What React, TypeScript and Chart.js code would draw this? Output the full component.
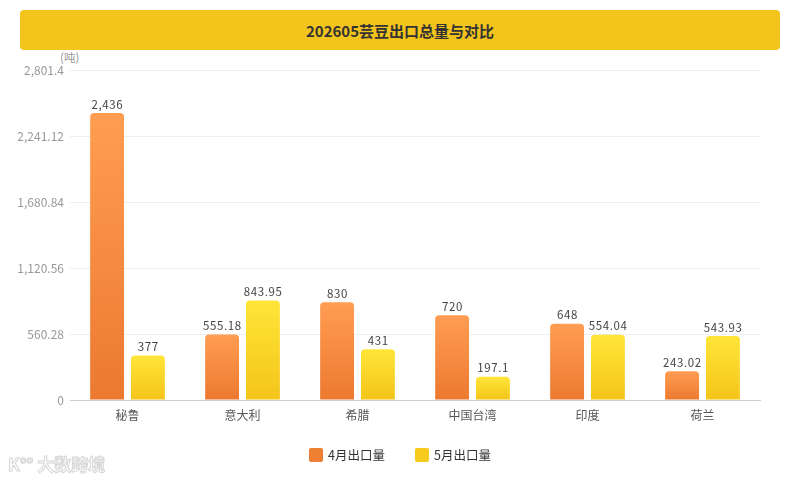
import React, { useEffect, useRef } from "react";
import { Chart, registerables } from "chart.js";

Chart.register(...registerables);

const categories = ["秘鲁", "意大利", "希腊", "中国台湾", "印度", "荷兰"];
const aprilValues = [2436, 555.18, 830, 720, 648, 243.02];
const mayValues = [377, 843.95, 431, 197.1, 554.04, 543.93];
const yTicks = [0, 560.28, 1120.56, 1680.84, 2241.12, 2801.4];
const seriesNames = ["4月出口量", "5月出口量"];
const titleText = "202605芸豆出口总量与对比";
const unitText = "(吨)";

const FONT = '"Noto Sans CJK SC", "Noto Sans", sans-serif';

const fmt = (v: number) => v.toLocaleString("en-US", { maximumFractionDigits: 2 });

function barGradient(ctx: any, top: string, bottom: string) {
  const chart = ctx.chart;
  const area = chart.chartArea;
  const yScale = chart.scales?.y;
  if (!area || !yScale || ctx.type !== "data") return bottom;
  const v = ctx.raw as number;
  const y0 = yScale.getPixelForValue(v);
  const y1 = yScale.getPixelForValue(0);
  if (!isFinite(y0) || !isFinite(y1) || y0 === y1) return bottom;
  const g = chart.ctx.createLinearGradient(0, y0, 0, y1);
  g.addColorStop(0, top);
  g.addColorStop(1, bottom);
  return g;
}

const valueLabels = {
  id: "valueLabels",
  afterDatasetsDraw(chart: any) {
    const c = chart.ctx;
    c.save();
    c.font = `11.5px ${FONT}`;
    c.fillStyle = "#444";
    c.textAlign = "center";
    c.textBaseline = "bottom";
    try {
      (c as any).letterSpacing = "0.6px";
    } catch (e) {}
    chart.data.datasets.forEach((ds: any, di: number) => {
      const meta = chart.getDatasetMeta(di);
      meta.data.forEach((bar: any, i: number) => {
        c.fillText(fmt(ds.data[i]), bar.x + 0.3, bar.y - 3);
      });
    });
    c.restore();
  },
};

export default function App() {
  const canvasRef = useRef<HTMLCanvasElement | null>(null);

  useEffect(() => {
    if (!canvasRef.current) return;
    const chart = new Chart(canvasRef.current, {
      type: "bar",
      data: {
        labels: categories,
        datasets: [
          {
            label: seriesNames[0],
            data: aprilValues,
            backgroundColor: (ctx: any) => barGradient(ctx, "#FF9D52", "#EC7930"),
            borderRadius: { topLeft: 4, topRight: 4, bottomLeft: 0, bottomRight: 0 },
            borderSkipped: false,
            categoryPercentage: 0.71,
            barPercentage: 0.83,
          },
          {
            label: seriesNames[1],
            data: mayValues,
            backgroundColor: (ctx: any) => barGradient(ctx, "#FFE538", "#F4C41A"),
            borderRadius: { topLeft: 4, topRight: 4, bottomLeft: 0, bottomRight: 0 },
            borderSkipped: false,
            categoryPercentage: 0.71,
            barPercentage: 0.83,
          },
        ],
      },
      options: {
        animation: false,
        responsive: true,
        maintainAspectRatio: false,
        layout: { padding: { left: 0, right: 40, top: 70, bottom: 0 } },
        plugins: {
          legend: { display: false },
          tooltip: { enabled: false },
          title: { display: false },
        },
        scales: {
          x: {
            grid: { display: false },
            border: { display: true, color: "#cccccc", width: 1 },
            ticks: {
              color: "#555",
              font: { family: FONT, size: 12 },
              padding: 0,
            },
            afterFit: (scale: any) => {
              scale.height = 80;
            },
          },
          y: {
            min: 0,
            max: yTicks[yTicks.length - 1],
            afterBuildTicks: (scale: any) => {
              scale.ticks = yTicks.map((v) => ({ value: v }));
            },
            grid: { color: "#eeeeee", drawTicks: false, lineWidth: 1 },
            border: { display: false },
            ticks: {
              color: "#999",
              font: { family: FONT, size: 12 },
              padding: 6,
              callback: (v: any) => fmt(Number(v)),
            },
            afterFit: (scale: any) => {
              scale.width = 70;
            },
          },
        },
      },
      plugins: [valueLabels],
    });
    return () => chart.destroy();
  }, []);

  return (
    <div
      style={{
        position: "fixed",
        left: 0,
        top: 0,
        width: 800,
        height: 480,
        background: "#fff",
        fontFamily: FONT,
        overflow: "hidden",
      }}
    >
      <div
        style={{
          position: "absolute",
          left: 20,
          top: 10,
          width: 760,
          height: 40,
          background: "#F3C41B",
          borderRadius: 4,
          display: "flex",
          alignItems: "center",
          justifyContent: "center",
          fontSize: 15,
          fontWeight: 700,
          color: "#333",
        }}
      >
        {titleText}
      </div>
      <div
        style={{
          position: "absolute",
          left: 60,
          top: 49,
          fontSize: 11.5,
          color: "#999",
        }}
      >
        {unitText}
      </div>
      <div style={{ position: "absolute", left: 0, top: 0, width: 800, height: 480 }}>
        <canvas ref={canvasRef} />
      </div>
      <div
        style={{
          position: "absolute",
          left: 0,
          top: 445,
          width: 800,
          display: "flex",
          justifyContent: "center",
          alignItems: "center",
          fontSize: 12.5,
          color: "#333",
        }}
      >
        <div style={{ display: "flex", alignItems: "center", marginRight: 30 }}>
          <span
            style={{
              display: "inline-block",
              width: 14,
              height: 14,
              borderRadius: 2,
              background: "#EF7F33",
              marginRight: 5,
            }}
          />
          {seriesNames[0]}
        </div>
        <div style={{ display: "flex", alignItems: "center" }}>
          <span
            style={{
              display: "inline-block",
              width: 14,
              height: 14,
              borderRadius: 2,
              background: "#F6CB1E",
              marginRight: 5,
            }}
          />
          {seriesNames[1]}
        </div>
      </div>
      <div
        style={{
          position: "absolute",
          left: 8,
          top: 451,
          fontSize: 17,
          fontWeight: 700,
          color: "#fff",
          WebkitTextStroke: "1px #d6d6d6",
          letterSpacing: 0,
          userSelect: "none",
        }}
      >
        K°° 大数跨境
      </div>
    </div>
  );
}
